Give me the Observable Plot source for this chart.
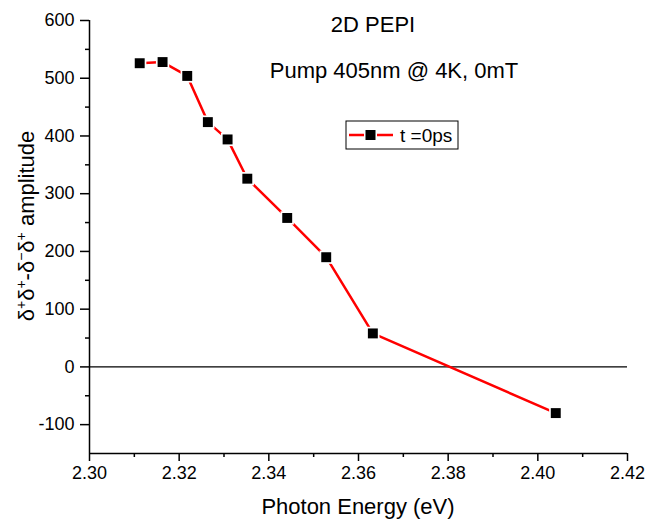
<!DOCTYPE html>
<html><head><meta charset="utf-8">
<script src="https://cdn.jsdelivr.net/npm/d3@7"></script>
<script src="https://cdn.jsdelivr.net/npm/@observablehq/plot@0.6"></script>
<style>body{margin:0;background:#fff;} #chart{width:649px;height:521px;}</style>
</head><body><div id="chart"></div>
<script>
const energy = [2.3112, 2.3163, 2.3218, 2.3264, 2.3308, 2.3352, 2.3441, 2.3528, 2.3632, 2.4040];
const amplitude = [526, 528, 504, 424, 394, 326, 258, 190, 58, -80];
const xTicks = [2.30, 2.32, 2.34, 2.36, 2.38, 2.40, 2.42];
const xMinor = [2.31, 2.33, 2.35, 2.37, 2.39, 2.41];
const yTicks = [-100, 0, 100, 200, 300, 400, 500, 600];
const yMinor = [-50, 50, 150, 250, 350, 450, 550];
const titleText = "2D PEPI";
const subtitleText = "Pump 405nm @ 4K, 0mT";
const seriesName = "t =0ps";
const xLabel = "Photon Energy (eV)";

const data = energy.map((x, i) => ({x, y: amplitude[i]}));
const FONT = "'Liberation Sans', Arial, sans-serif";

const plot = Plot.plot({
  width: 649, height: 521,
  marginLeft: 89, marginRight: 22, marginTop: 20, marginBottom: 68,
  style: {fontFamily: FONT, fontSize: "18px", color: "#000", background: "#fff"},
  x: {domain: [2.30, 2.42]},
  y: {domain: [-150, 600]},
  marks: [
    Plot.ruleY([0], {stroke: "#000", strokeWidth: 1.2}),
    Plot.axisX(xTicks, {tickSize: 8, tickPadding: 5, tickFormat: d3.format(".2f"), label: null, strokeWidth: 1.5, strokeOpacity: 1}),
    Plot.axisX(xMinor, {tickSize: 4, tickFormat: () => "", label: null, strokeWidth: 1.5, strokeOpacity: 1}),
    Plot.axisY(yTicks, {tickSize: 9, tickPadding: 6, tickFormat: d => String(d), label: null, strokeWidth: 1.5, strokeOpacity: 1}),
    Plot.axisY(yMinor, {tickSize: 4, tickFormat: () => "", label: null, strokeWidth: 1.5, strokeOpacity: 1}),
    Plot.ruleX([2.30], {stroke: "#000", strokeWidth: 1.5}),
    Plot.ruleY([-150], {stroke: "#000", strokeWidth: 1.5}),
    Plot.line(data, {x: "x", y: "y", stroke: "#ff0000", strokeWidth: 2.5}),
    Plot.dot(data, {x: "x", y: "y", symbol: "square", r: 7.5, fill: "#fff", stroke: "none"}),
    Plot.dot(data, {x: "x", y: "y", symbol: "square", r: 5.6, fill: "#000", stroke: "none"})
  ]
});
document.getElementById("chart").appendChild(plot);

const svg = d3.select(plot);
const txt = (x, y, s, size, anchor) => svg.append("text")
  .attr("x", x).attr("y", y).attr("font-family", FONT).attr("font-size", size)
  .attr("text-anchor", anchor || "middle").attr("fill", "#000").text(s);

txt(373, 32, titleText, 22);
txt(394, 78, subtitleText, 22);
txt(358, 514, xLabel, 22);

// y label with superscripts
const yl = svg.append("text")
  .attr("transform", "translate(34,226) rotate(-90)")
  .attr("font-family", FONT).attr("font-size", 22).attr("text-anchor", "middle").attr("fill", "#000");
const parts = [["δ", ""], ["+", "sup"], ["δ", ""], ["+", "sup"], ["-δ", ""], ["−", "sup"], ["δ", ""], ["+", "sup"], [" amplitude", ""]];
parts.forEach(([s, k], i) => {
  const t = yl.append("tspan").text(s);
  if (k === "sup") t.attr("font-size", 14).attr("dy", "-0.55em");
  else if (i > 0 && parts[i - 1][1] === "sup") t.attr("dy", "0.35em");
});

// legend
const lg = svg.append("g");
lg.append("rect").attr("x", 346).attr("y", 121).attr("width", 112).attr("height", 28)
  .attr("fill", "#fff").attr("stroke", "#000").attr("stroke-width", 1);
lg.append("line").attr("x1", 349).attr("x2", 393).attr("y1", 135).attr("y2", 135)
  .attr("stroke", "#ff0000").attr("stroke-width", 2.5);
lg.append("rect").attr("x", 364).attr("y", 128.5).attr("width", 13).attr("height", 13).attr("fill", "#fff");
lg.append("rect").attr("x", 365.5).attr("y", 130).attr("width", 10).attr("height", 10).attr("fill", "#000");
lg.append("text").attr("x", 400).attr("y", 142).attr("font-family", FONT).attr("font-size", 19)
  .attr("text-anchor", "start").attr("fill", "#000").text(seriesName);
</script></body></html>
